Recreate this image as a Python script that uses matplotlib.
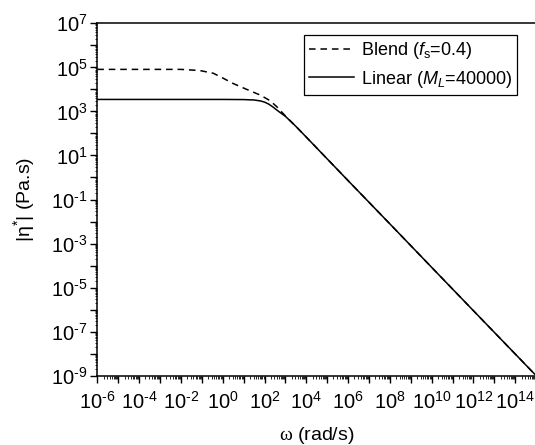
import math
import matplotlib
matplotlib.use("Agg")
import matplotlib.pyplot as plt
from matplotlib.ticker import LogLocator, FuncFormatter, NullFormatter

plt.rcParams["font.family"] = ["Liberation Sans", "DejaVu Sans"]
plt.rcParams["mathtext.fontset"] = "custom"
plt.rcParams["mathtext.rm"] = "Liberation Sans"
plt.rcParams["mathtext.it"] = "Liberation Sans:italic"
plt.rcParams["mathtext.sf"] = "Liberation Serif"

# Complex viscosity |eta*| versus angular frequency
omega_linear = [1e-6, 1e-2, 1e0, 1e1, 10**1.5, 10**1.8, 1e2, 10**2.2, 10**2.4,
                10**2.7, 1e3, 10**3.5, 1e4, 1e6, 1e8, 1e10, 1e12, 1e15]
eta_linear = [3.5e3, 3.5e3, 3.5e3, 3.45e3, 3.3e3, 3.0e3, 2.65e3, 2.15e3, 1.6e3,
              9.6e2, 6.0e2, 2.1e2, 6.8e1, 7.2e-1, 7.8e-3, 8.3e-5, 8.9e-7, 1.0e-9]

omega_blend = [1e-6, 1e-2, 10**-1.1, 10**-0.45, 1e0, 10**0.5, 10**1.15, 10**1.8,
               10**2.26, 10**2.6, 1e3, 10**3.5, 1e4, 1e6, 1e8, 1e10, 1e12, 1e15]
eta_blend = [8.1e4, 8.1e4, 7.2e4, 5.4e4, 3.3e4, 1.85e4, 1.0e4, 5.5e3,
             3.1e3, 1.6e3, 6.2e2, 2.1e2, 6.8e1, 7.2e-1, 7.8e-3, 8.3e-5, 8.9e-7, 1.0e-9]

x_ticks_labeled = [-6, -4, -2, 0, 2, 4, 6, 8, 10, 12, 14]
y_ticks_labeled = [-9, -7, -5, -3, -1, 1, 3, 5, 7]

fig = plt.figure(figsize=(5.35, 4.45), dpi=100)
ax = fig.add_axes([0.1819, 0.1557, 0.8203, 0.7919])

ax.plot(omega_blend, eta_blend, color="black", lw=1.1, linestyle=(0, (4.3, 3.2)),
        label=r"Blend ($f_\mathrm{s}$=0.4)")
ax.plot(omega_linear, eta_linear, color="black", lw=1.1, label=r"Linear ($M_L$=40000)")

ax.set_xscale("log")
ax.set_yscale("log")
ax.set_xlim(1e-6, 1e15)
ax.set_ylim(1e-9, 1e7)

ax.xaxis.set_major_locator(LogLocator(base=10, numticks=40))
ax.yaxis.set_major_locator(LogLocator(base=10, numticks=40))
ax.xaxis.set_minor_locator(LogLocator(base=10, subs=range(2, 10), numticks=40))
ax.yaxis.set_minor_locator(LogLocator(base=10, subs=range(2, 10), numticks=40))
ax.xaxis.set_minor_formatter(NullFormatter())
ax.yaxis.set_minor_formatter(NullFormatter())


def make_fmt(shown):
    def fmt(v, pos):
        e = int(round(math.log10(v)))
        if e not in shown:
            return ""
        if e < 0:
            return r"$10^{\text{-}%d}$" % (-e)
        return r"$10^{%d}$" % e
    return fmt


ax.xaxis.set_major_formatter(FuncFormatter(make_fmt(x_ticks_labeled)))
ax.yaxis.set_major_formatter(FuncFormatter(make_fmt(y_ticks_labeled)))

ax.tick_params(which="major", direction="out", length=5, width=1.0, labelsize=14.5,
               top=False, right=False, color="black")
ax.tick_params(which="minor", direction="out", length=1.8, width=0.6,
               top=False, right=False)
ax.tick_params(axis="x", pad=6)
ax.tick_params(axis="y", pad=2)

ax.spines["right"].set_visible(False)
for s in ("left", "bottom", "top"):
    ax.spines[s].set_linewidth(1.1)

ax.set_xlabel(r"$\mathsf{\omega}$ (rad/s)", fontsize=14, labelpad=9)
ax.set_ylabel(r"$|\mathrm{\eta}^{*}|$ (Pa.s)", fontsize=14, labelpad=10)

leg = ax.legend(loc="upper right", bbox_to_anchor=(0.9563, 0.9668), fontsize=13,
                frameon=True, fancybox=False, edgecolor="black", framealpha=1,
                handlelength=2.5, handletextpad=0.35, borderpad=0.3,
                labelspacing=0.4, borderaxespad=0)
leg.get_frame().set_linewidth(0.9)

fig.savefig("out.png", dpi=100)
